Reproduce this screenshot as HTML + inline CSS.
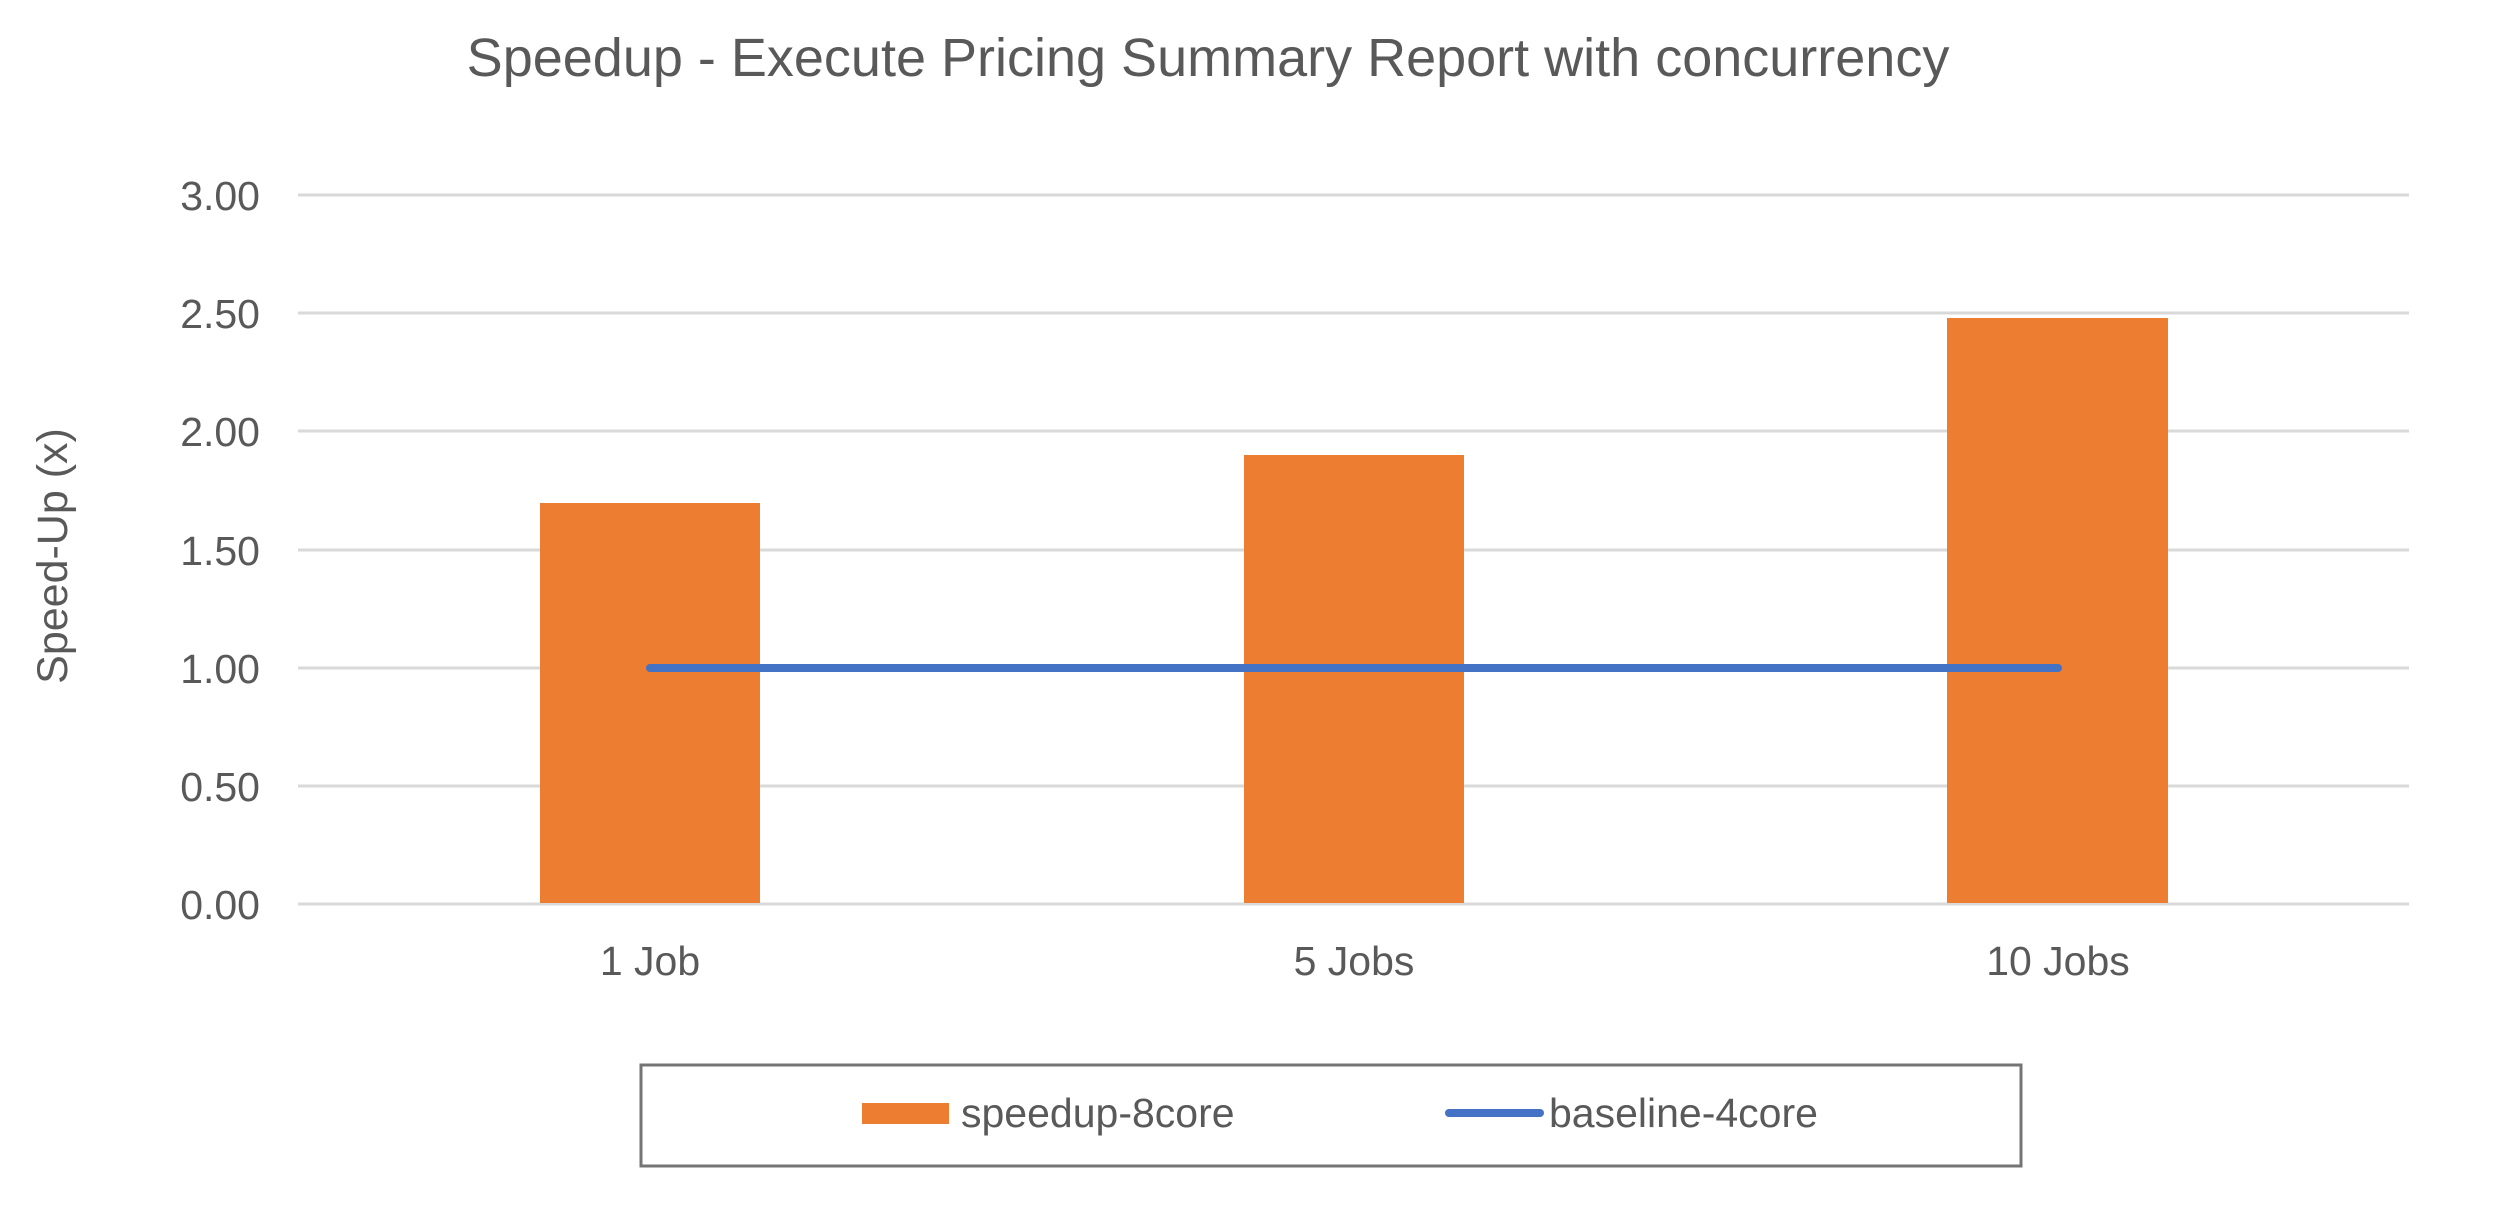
<!DOCTYPE html>
<html><head><meta charset="utf-8"><style>
html,body{margin:0;padding:0;background:#fff;}
svg{display:block;}
text{font-family:"Liberation Sans",sans-serif;fill:#595959;}
</style></head><body>
<svg width="2504" height="1221" viewBox="0 0 2504 1221">
<rect width="2504" height="1221" fill="#fff"/>
<text x="1208" y="76" font-size="54" text-anchor="middle">Speedup - Execute Pricing Summary Report with concurrency</text>
<g stroke="#d9d9d9" stroke-width="3">
<line x1="298" x2="2409" y1="195" y2="195"/>
<line x1="298" x2="2409" y1="313" y2="313"/>
<line x1="298" x2="2409" y1="431" y2="431"/>
<line x1="298" x2="2409" y1="550" y2="550"/>
<line x1="298" x2="2409" y1="668" y2="668"/>
<line x1="298" x2="2409" y1="786" y2="786"/>
<line x1="298" x2="2409" y1="904" y2="904"/>
</g>
<g font-size="41" text-anchor="end">
<text x="260" y="210">3.00</text>
<text x="260" y="328">2.50</text>
<text x="260" y="446">2.00</text>
<text x="260" y="565">1.50</text>
<text x="260" y="683">1.00</text>
<text x="260" y="801">0.50</text>
<text x="260" y="919">0.00</text>
</g>
<text transform="translate(67,556) rotate(-90)" font-size="43" text-anchor="middle">Speed-Up (x)</text>
<g fill="#ed7d31">
<rect x="540" y="503" width="220" height="400"/>
<rect x="1244" y="455" width="220" height="448"/>
<rect x="1947" y="318" width="221" height="585"/>
</g>
<line x1="650" y1="668" x2="2058" y2="668" stroke="#4472c4" stroke-width="8" stroke-linecap="round"/>
<g font-size="41" text-anchor="middle">
<text x="650" y="975">1 Job</text>
<text x="1354" y="975">5 Jobs</text>
<text x="2058" y="975">10 Jobs</text>
</g>
<rect x="641" y="1065" width="1380" height="101" fill="none" stroke="#757575" stroke-width="3"/>
<rect x="862" y="1103" width="87" height="21" fill="#ed7d31"/>
<text x="961" y="1127" font-size="41">speedup-8core</text>
<line x1="1449" y1="1113" x2="1540" y2="1113" stroke="#4472c4" stroke-width="8" stroke-linecap="round"/>
<text x="1549" y="1127" font-size="41">baseline-4core</text>
</svg>
</body></html>
